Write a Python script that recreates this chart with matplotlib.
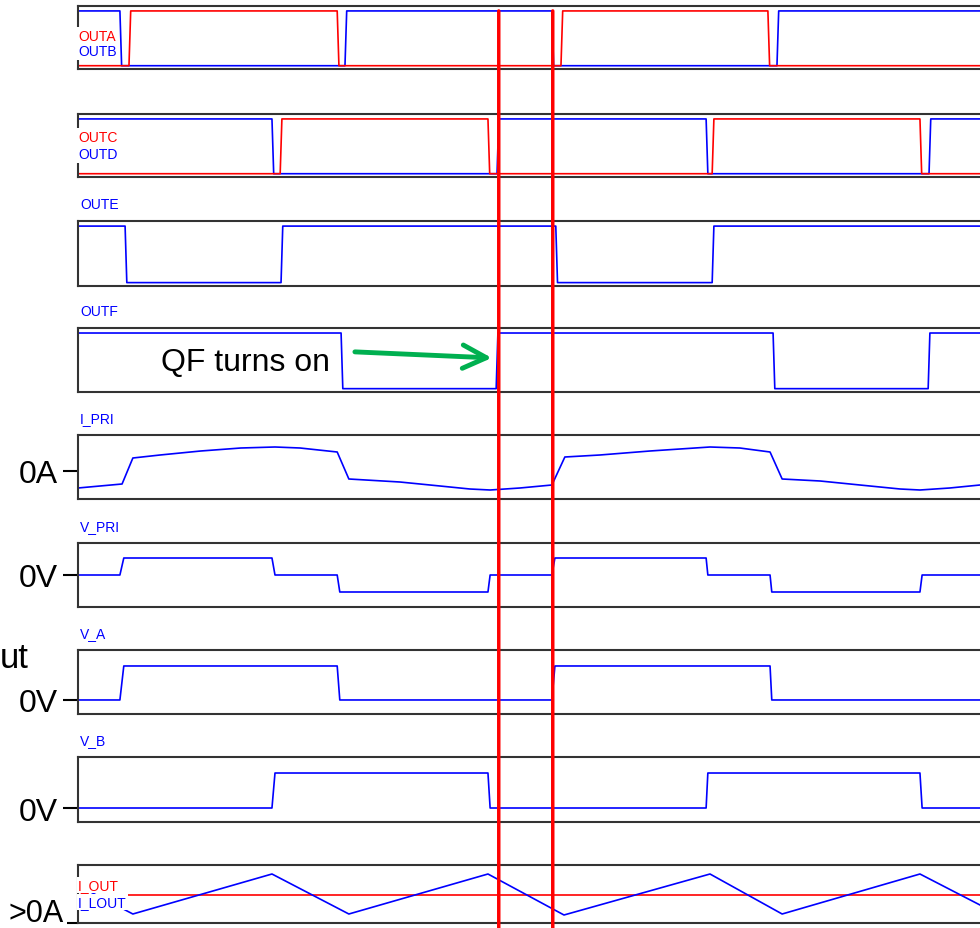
import matplotlib
matplotlib.use("Agg")
import matplotlib.pyplot as plt
from matplotlib.patches import ConnectionPatch

plt.rcParams['font.family'] = ['Liberation Sans', 'DejaVu Sans']

# time axis in microseconds (one switching period = 10 us)
t_end = 20.88
edge = 0.04  # duration of a switching edge

# gate drive signals: start level and toggle instants (us)
outa_start, outa_edges = 0, [1.18, 6.00, 11.18, 15.97]
outb_start, outb_edges = 1, [0.97, 6.18, 10.97, 16.18]
outc_start, outc_edges = 0, [4.68, 9.49, 14.68, 19.49]
outd_start, outd_edges = 1, [4.49, 9.70, 14.54, 19.70]
oute_start, oute_edges = 1, [1.09, 4.70, 11.06, 14.68]
outf_start, outf_edges = 1, [6.09, 9.68, 16.09, 19.68]

# primary current (A)
ipri_t = [0, 1.02, 1.27, 1.90, 2.84, 3.77, 4.56, 5.14, 6.00, 6.27, 7.45, 8.38, 9.07, 9.54,
          10.23, 10.97, 11.27, 12.08, 13.24, 14.63, 15.32, 16.02, 16.30, 17.18, 18.10, 19.03,
          19.49, 20.18, 20.88]
ipri_v = [-1.7, -1.3, 1.3, 1.6, 2.0, 2.3, 2.4, 2.3, 1.9, -0.8, -1.1, -1.5, -1.8, -1.9,
          -1.7, -1.4, 1.4, 1.6, 2.0, 2.4, 2.3, 1.9, -0.8, -1.0, -1.4, -1.8,
          -1.9, -1.7, -1.4]

# primary voltage (V)
vpri_t = [0, 0.97, 1.06, 4.49, 4.56, 6.00, 6.06, 9.49, 9.54, 10.97, 11.04, 14.54, 14.58,
          16.02, 16.06, 19.49, 19.54, 20.88]
vpri_v = [0, 0, 400, 400, 0, 0, -400, -400, 0, 0, 400, 400, 0, 0, -400, -400, 0, 0]

# bridge leg voltages (V)
va_t = [0, 0.97, 1.06, 6.00, 6.06, 10.97, 11.04, 16.02, 16.06, 20.88]
va_v = [0, 0, 400, 400, 0, 0, 400, 400, 0, 0]
vb_t = [0, 4.49, 4.56, 9.49, 9.54, 14.54, 14.58, 19.49, 19.54, 20.88]
vb_v = [0, 0, 400, 400, 0, 0, 400, 400, 0, 0]

# output current and inductor current (A)
iout_t = [0, 20.88]
iout_v = [7, 7]
ilout_t = [0, 1.27, 4.49, 6.27, 9.49, 11.25, 14.63, 16.30, 19.49, 20.88]
ilout_v = [9.4, 2.25, 12.25, 2.25, 12.25, 2.0, 12.25, 2.25, 12.25, 4.5]

# instants marked by the red cursors (us)
cursors = [9.74, 10.99]


def square(start, edges):
    t, v, level = [0.0], [start], start
    for e in edges:
        t += [e, e + edge]
        v += [level, 1 - level]
        level = 1 - level
    t.append(t_end)
    v.append(level)
    return t, v


W, H = 980, 929
fig = plt.figure(figsize=(W / 100, H / 100), dpi=100)

# panel extents in pixels (top, bottom)
panels = [(7, 70), (115, 178), (222, 287), (329, 393), (436, 500),
          (544, 608), (651, 715), (758, 823), (866, 924)]
axes = []
for top, bot in panels:
    ax = fig.add_axes([78 / W, 1 - bot / H, (W - 78) / W, (bot - top) / H])
    ax.set_xlim(0, t_end)
    ax.set_xticks([])
    ax.set_yticks([])
    ax.spines['right'].set_visible(False)
    for s in ['top', 'bottom', 'left']:
        ax.spines[s].set_color('#333333')
        ax.spines[s].set_linewidth(1.5)
    axes.append(ax)

blue, red = '#0000FF', '#FF0000'
lw = 1.2
small = 10

# OUTA / OUTB
ax = axes[0]
ax.plot(*square(outb_start, outb_edges), color=blue, lw=lw)
ax.plot(*square(outa_start, outa_edges), color=red, lw=lw)
ax.set_ylim(-0.06, 1.09)

# OUTC / OUTD
ax = axes[1]
ax.plot(*square(outd_start, outd_edges), color=blue, lw=lw)
ax.plot(*square(outc_start, outc_edges), color=red, lw=lw)
ax.set_ylim(-0.06, 1.09)

# OUTE
ax = axes[2]
ax.plot(*square(oute_start, oute_edges), color=blue, lw=lw)
ax.set_ylim(-0.06, 1.09)

# OUTF
ax = axes[3]
ax.plot(*square(outf_start, outf_edges), color=blue, lw=lw)
ax.set_ylim(-0.06, 1.09)
ax.text(5.83, 0.335, "QF turns on", fontsize=23, ha='right', va='baseline')
ax.annotate("", xy=(9.58, 0.552), xytext=(6.41, 0.661),
            arrowprops=dict(arrowstyle='->,head_length=0.85,head_width=0.42',
                            mutation_scale=20, color='#00B050', lw=3.5,
                            shrinkA=0, shrinkB=0))

# I_PRI
ax = axes[4]
ax.plot(ipri_t, ipri_v, color=blue, lw=lw)
ax.set_ylim(-2.8, 3.6)

# V_PRI
ax = axes[5]
ax.plot(vpri_t, vpri_v, color=blue, lw=lw)
ax.set_ylim(-753, 753)

# V_A
ax = axes[6]
ax.plot(va_t, va_v, color=blue, lw=lw)
ax.set_ylim(-165, 588)

# V_B
ax = axes[7]
ax.plot(vb_t, vb_v, color=blue, lw=lw)
ax.set_ylim(-160, 583)

# I_OUT / I_LOUT
ax = axes[8]
ax.plot(iout_t, iout_v, color=red, lw=lw)
ax.plot(ilout_t, ilout_v, color=blue, lw=lw)
ax.set_ylim(0, 14.5)

# zero markers on the left
for ax, lab in zip(axes[4:8], ["0A", "0V", "0V", "0V"]):
    ax.set_yticks([0])
    ax.set_yticklabels([lab], fontsize=23)
    ax.tick_params(axis='y', length=10.8, width=1.5, pad=4, color='black')
axes[8].set_yticks([0])
axes[8].set_yticklabels([""])
axes[8].tick_params(axis='y', length=8, width=1.5, color='black')
axes[8].annotate(">0A", xy=(0, 0), xycoords='axes fraction', xytext=(-10.5, 1.5),
                 textcoords='offset points', ha='right', va='baseline',
                 fontsize=22, annotation_clip=False)

# signal labels inside the boxes
inside = [(0, "OUTA", red, 0.524, 6, 1.5), (0, "OUTB", blue, 0.286, 5, 1.5),
          (1, "OUTC", red, 0.635, 6, 1.5), (1, "OUTD", blue, 0.365, 5, 1.5),
          (8, "I_OUT", red, 0.655, 6, 0.8), (8, "I_LOUT", blue, 0.362, 5, 0.8)]
for i, name, col, yf, z, pad in inside:
    axes[i].text(0.0, yf, name, transform=axes[i].transAxes, color=col,
                 fontsize=small, ha='left', va='center', zorder=z, clip_on=False,
                 bbox=dict(facecolor='white', edgecolor='none', pad=pad))

# signal labels above the boxes
for i, name in zip(range(2, 8), ["OUTE", "OUTF", "I_PRI", "V_PRI", "V_A", "V_B"]):
    axes[i].annotate(name, xy=(0, 1), xycoords='axes fraction', xytext=(1.5, 12.5),
                     textcoords='offset points', color=blue, fontsize=small,
                     ha='left', va='center')

fig.text(0.0, 1 - 668 / H, "ut", fontsize=25, ha='left', va='baseline')

# red cursors across all panels, down to the bottom edge
for t in cursors:
    con = ConnectionPatch(xyA=(t, 1), coordsA=axes[0].transData,
                          xyB=(t, -3), coordsB=axes[8].transData,
                          color=red, lw=2.5, zorder=10)
    fig.add_artist(con)

fig.savefig("out.png", dpi=100)
